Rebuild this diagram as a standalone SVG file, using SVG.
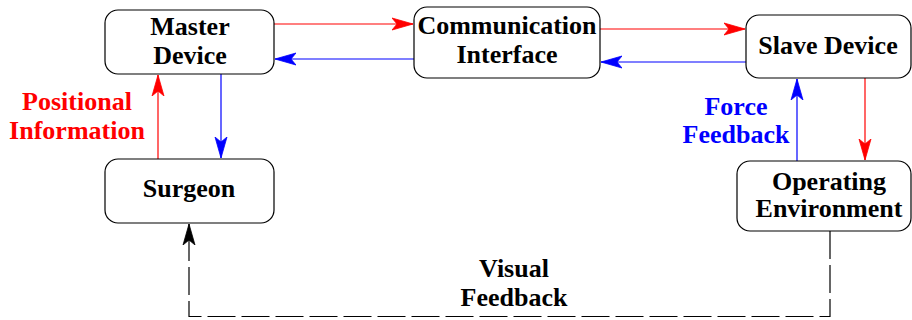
<svg xmlns="http://www.w3.org/2000/svg" width="912" height="320" viewBox="0 0 912 320">
<style>
.box{fill:#fff;stroke:#000;stroke-width:1.2}
.t{font-family:"Liberation Serif","Times New Roman",serif;font-weight:bold;font-size:26px;text-anchor:middle;fill:#000}
.red{fill:#ff0000}
.blue{fill:#0000ff}
.lr{fill:none;stroke:#ff0000;stroke-width:1.2}
.lb{fill:none;stroke:#0000ff;stroke-width:1.2}
.lk{fill:none;stroke:#000;stroke-width:1.2;stroke-dasharray:28 6}
</style>
<defs>
<marker id="ar" markerUnits="userSpaceOnUse" viewBox="0 0 22 14" refX="21" refY="7" markerWidth="22" markerHeight="14" orient="auto">
<path d="M21,7 L0,1 L5,7 L0,13 Z" fill="#ff0000" stroke="#ff0000" stroke-width="0.8"/>
</marker>
<marker id="ab" markerUnits="userSpaceOnUse" viewBox="0 0 22 14" refX="21" refY="7" markerWidth="22" markerHeight="14" orient="auto">
<path d="M21,7 L0,1 L5,7 L0,13 Z" fill="#0000ff" stroke="#0000ff" stroke-width="0.8"/>
</marker>
<marker id="ak" markerUnits="userSpaceOnUse" viewBox="0 0 22 14" refX="21" refY="7" markerWidth="22" markerHeight="14" orient="auto">
<path d="M21,7 L0,1 L5,7 L0,13 Z" fill="#000" stroke="#000" stroke-width="0.8" stroke-dasharray="none"/>
</marker>
</defs>
<rect width="912" height="320" fill="#fff"/>
<g id="connectors">
<path class="lr" d="M274,24 H413" marker-end="url(#ar)"/>
<path class="lb" d="M414,59 H275" marker-end="url(#ab)"/>
<path class="lr" d="M600,29 H745" marker-end="url(#ar)"/>
<path class="lb" d="M746,62 H601" marker-end="url(#ab)"/>
<path class="lr" d="M158,159 V75" marker-end="url(#ar)"/>
<path class="lb" d="M221,74 V158" marker-end="url(#ab)"/>
<path class="lb" d="M797,161 V79" marker-end="url(#ab)"/>
<path class="lr" d="M865,78 V160" marker-end="url(#ar)"/>
<path class="lk" d="M830,231 V316.5 H189 V224" marker-end="url(#ak)"/>
</g>
<g id="master">
<rect class="box" x="105" y="10" width="169" height="64" rx="13"/>
<text class="t" x="190" y="35">Master</text>
<text class="t" x="190" y="64">Device</text>
</g>
<g id="surgeon">
<rect class="box" x="105" y="159" width="169" height="64" rx="13"/>
<text class="t" x="189" y="197">Surgeon</text>
</g>
<g id="comm">
<rect class="box" x="414" y="7" width="186" height="71" rx="13"/>
<text class="t" x="507" y="34">Communication</text>
<text class="t" x="507" y="63">Interface</text>
</g>
<g id="slave">
<rect class="box" x="746" y="15" width="165" height="63" rx="13"/>
<text class="t" x="828" y="54">Slave Device</text>
</g>
<g id="openv">
<rect class="box" x="737" y="161" width="174" height="70" rx="13"/>
<text class="t" x="829" y="190">Operating</text>
<text class="t" x="829" y="217">Environment</text>
</g>
<g id="labels">
<text class="t red" x="77" y="110">Positional</text>
<text class="t red" x="77" y="139">Information</text>
<text class="t blue" x="736" y="115">Force</text>
<text class="t blue" x="736" y="143">Feedback</text>
<text class="t" x="514" y="277">Visual</text>
<text class="t" x="514" y="306">Feedback</text>
</g>
</svg>
